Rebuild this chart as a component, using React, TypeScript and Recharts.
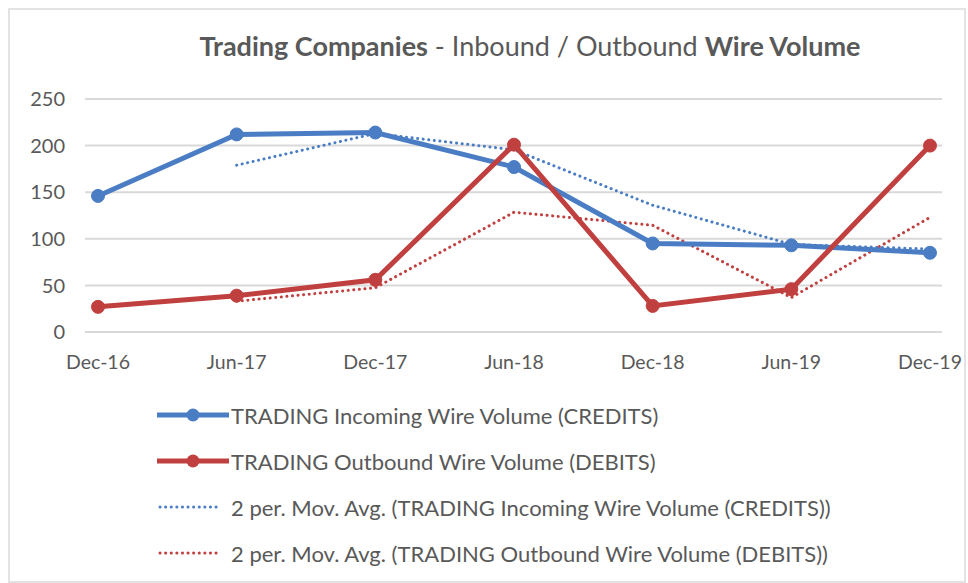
import React from 'react';
import {
  CartesianGrid,
  Legend,
  Line,
  LineChart,
  XAxis,
  YAxis,
} from 'recharts';

// 반기별 구간
const periods = ['Dec-16', 'Jun-17', 'Dec-17', 'Jun-18', 'Dec-18', 'Jun-19', 'Dec-19'];

// 인입 / 출금 건수
const incoming = [146, 212, 214, 177, 95, 93, 85];
const outbound = [27, 39, 56, 201, 28, 46, 200];

// 2구간 이동평균 (첫 구간은 없음)
const incomingAvg = [null, 179, 213, 195.5, 136, 94, 89];
const outboundAvg = [null, 33, 47.5, 128.5, 114.5, 37, 123];

const yTicks = [0, 50, 100, 150, 200, 250];

const BLUE = '#4A7DC4';
const RED = '#C0403F';
const TEXT = '#595959';
const FONT = 'Lato, "Open Sans", sans-serif';
const DOTS = '0.1 5.5';

const data = periods.map((period, i) => ({
  period,
  incoming: incoming[i],
  outbound: outbound[i],
  incomingAvg: incomingAvg[i],
  outboundAvg: outboundAvg[i],
}));

const legendItems = [
  { label: 'TRADING Incoming Wire Volume (CREDITS)', color: BLUE, dotted: false },
  { label: 'TRADING Outbound Wire Volume (DEBITS)', color: RED, dotted: false },
  { label: '2 per. Mov. Avg. (TRADING Incoming Wire Volume (CREDITS))', color: BLUE, dotted: true },
  { label: '2 per. Mov. Avg. (TRADING Outbound Wire Volume (DEBITS))', color: RED, dotted: true },
];

// 엑셀 스타일 범례
const LegendBox = () => (
  <div style={{ fontFamily: FONT, fontSize: 22, color: TEXT }}>
    {legendItems.map((item) => (
      <div key={item.label} style={{ display: 'flex', alignItems: 'center', height: 46 }}>
        <svg width={76} height={20}>
          {item.dotted ? (
            <line
              x1={5}
              y1={10}
              x2={66}
              y2={10}
              stroke={item.color}
              strokeWidth={3}
              strokeDasharray={DOTS}
              strokeLinecap='round'
            />
          ) : (
            <>
              <line x1={2} y1={10} x2={74} y2={10} stroke={item.color} strokeWidth={5} />
              <circle cx={38} cy={10} r={6.5} fill={item.color} />
            </>
          )}
        </svg>
        <span>{item.label}</span>
      </div>
    ))}
  </div>
);

export default function App() {
  return (
    <div
      style={{
        position: 'absolute',
        left: 0,
        top: 0,
        width: 968,
        height: 583,
        background: '#fff',
        overflow: 'hidden',
      }}
    >
      {/* 차트 테두리 */}
      <div
        style={{
          position: 'absolute',
          left: 8,
          top: 8,
          width: 954,
          height: 571,
          border: '2px solid #E3E3E3',
        }}
      />

      {/* 제목 */}
      <div
        style={{
          position: 'absolute',
          top: 29,
          left: 0,
          width: 1060,
          textAlign: 'center',
          fontFamily: FONT,
          fontSize: 27,
          color: TEXT,
          whiteSpace: 'nowrap',
        }}
      >
        <b>Trading Companies</b> - Inbound / Outbound <b>Wire Volume</b>
      </div>

      <div style={{ position: 'absolute', left: 0, top: 0 }}>
        <LineChart
          width={968}
          height={583}
          data={data}
          margin={{ top: 99, right: 26, bottom: 0, left: 0 }}
        >
          <CartesianGrid vertical={false} stroke='#D9D9D9' strokeWidth={2} />
          <XAxis
            dataKey='period'
            axisLine={false}
            tickLine={false}
            tickSize={0}
            tickMargin={23}
            height={251}
            padding={{ left: 13, right: 12 }}
            tick={{ fontFamily: FONT, fontSize: 19.5, fill: TEXT }}
            interval={0}
          />
          <YAxis
            domain={[0, 250]}
            ticks={yTicks}
            axisLine={false}
            tickLine={false}
            tickSize={0}
            tickMargin={20}
            width={85}
            tick={{ fontFamily: FONT, fontSize: 20, fill: TEXT }}
          />
          <Line
            dataKey='incomingAvg'
            stroke={BLUE}
            strokeWidth={3}
            strokeDasharray={DOTS}
            strokeLinecap='round'
            dot={false}
            activeDot={false}
            isAnimationActive={false}
          />
          <Line
            dataKey='outboundAvg'
            stroke={RED}
            strokeWidth={3}
            strokeDasharray={DOTS}
            strokeLinecap='round'
            dot={false}
            activeDot={false}
            isAnimationActive={false}
          />
          <Line
            dataKey='incoming'
            stroke={BLUE}
            strokeWidth={5}
            dot={{ r: 6.5, fill: BLUE, stroke: BLUE, strokeWidth: 1 }}
            activeDot={false}
            isAnimationActive={false}
          />
          <Line
            dataKey='outbound'
            stroke={RED}
            strokeWidth={5}
            dot={{ r: 6.5, fill: RED, stroke: RED, strokeWidth: 1 }}
            activeDot={false}
            isAnimationActive={false}
          />
          <Legend
            layout='vertical'
            align='center'
            verticalAlign='middle'
            wrapperStyle={{ top: 392, left: 155, width: 760 }}
            content={() => <LegendBox />}
          />
        </LineChart>
      </div>
    </div>
  );
}
